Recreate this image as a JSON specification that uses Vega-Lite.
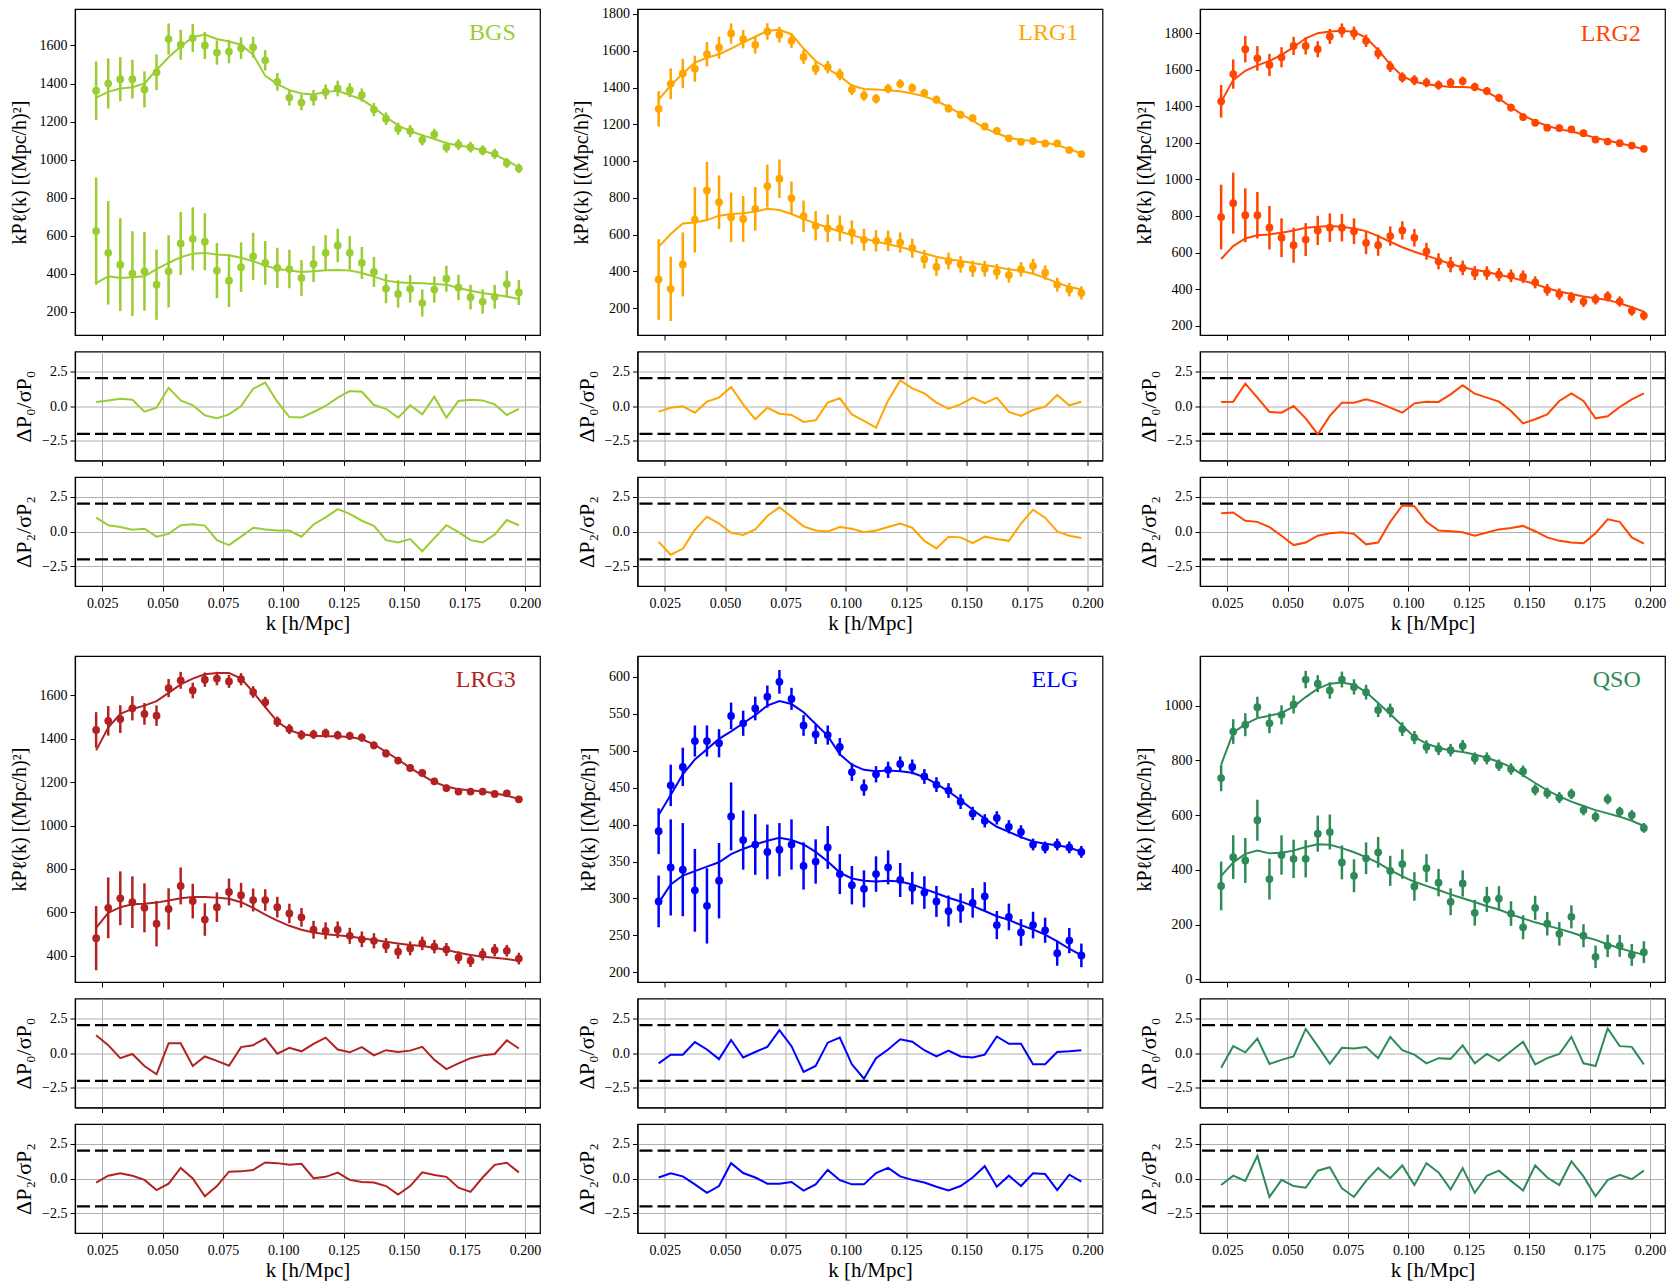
{
"$schema":"https://vega.github.io/schema/vega-lite/v6.json",
"background":"white",
"padding":{"left":8,"top":6,"right":2,"bottom":0},
"config":{
 "font":"Liberation Serif",
 "view":{"stroke":"black","strokeWidth":1.2},
 "axis":{"labelFont":"Liberation Serif","labelFontSize":14,"labelColor":"black","titleFont":"Liberation Serif","titleFontSize":20,"titleFontWeight":"normal","titleColor":"black","tickColor":"black","tickSize":5,"tickWidth":1,"domainColor":"black","domainWidth":1.2,"gridColor":"#b0b0b0","gridWidth":1,"grid":false,"labelPadding":3,"titlePadding":6,"labelFlush":false}
},
"datasets":{"pk":[
{"t":"BGS","k":0.0225,"p0":1362,"e0":154,"p2":624,"e2":282,"m0":1326,"m2":350,"r0":0.29,"r2":0.99},
{"t":"BGS","k":0.0275,"p0":1400,"e0":132,"p2":509,"e2":272,"m0":1356,"m2":386,"r0":0.4,"r2":0.45},
{"t":"BGS","k":0.0325,"p0":1423,"e0":116,"p2":447,"e2":244,"m0":1374,"m2":377,"r0":0.52,"r2":0.32},
{"t":"BGS","k":0.0375,"p0":1423,"e0":102,"p2":400,"e2":223,"m0":1380,"m2":381,"r0":0.45,"r2":0.12},
{"t":"BGS","k":0.0425,"p0":1369,"e0":95,"p2":412,"e2":207,"m0":1400,"m2":386,"r0":-0.4,"r2":0.2},
{"t":"BGS","k":0.0475,"p0":1459,"e0":94,"p2":342,"e2":185,"m0":1471,"m2":424,"r0":-0.12,"r2":-0.37},
{"t":"BGS","k":0.0525,"p0":1634,"e0":82,"p2":412,"e2":190,"m0":1538,"m2":456,"r0":1.3,"r2":-0.17},
{"t":"BGS","k":0.0575,"p0":1604,"e0":79,"p2":559,"e2":166,"m0":1595,"m2":486,"r0":0.4,"r2":0.45},
{"t":"BGS","k":0.0625,"p0":1639,"e0":74,"p2":583,"e2":166,"m0":1644,"m2":505,"r0":0.05,"r2":0.52},
{"t":"BGS","k":0.0675,"p0":1600,"e0":71,"p2":568,"e2":150,"m0":1658,"m2":509,"r0":-0.67,"r2":0.42},
{"t":"BGS","k":0.0725,"p0":1563,"e0":64,"p2":416,"e2":145,"m0":1634,"m2":500,"r0":-0.88,"r2":-0.62},
{"t":"BGS","k":0.0775,"p0":1568,"e0":62,"p2":363,"e2":139,"m0":1621,"m2":497,"r0":-0.6,"r2":-0.97},
{"t":"BGS","k":0.0825,"p0":1586,"e0":57,"p2":434,"e2":130,"m0":1604,"m2":483,"r0":0,"r2":-0.37},
{"t":"BGS","k":0.0875,"p0":1591,"e0":55,"p2":491,"e2":124,"m0":1551,"m2":465,"r0":1.24,"r2":0.27},
{"t":"BGS","k":0.0925,"p0":1522,"e0":53,"p2":456,"e2":115,"m0":1440,"m2":442,"r0":1.67,"r2":0.15},
{"t":"BGS","k":0.0975,"p0":1409,"e0":46,"p2":430,"e2":106,"m0":1397,"m2":424,"r0":0.31,"r2":0.07},
{"t":"BGS","k":0.1025,"p0":1326,"e0":42,"p2":424,"e2":101,"m0":1365,"m2":416,"r0":-0.79,"r2":0.07},
{"t":"BGS","k":0.1075,"p0":1300,"e0":41,"p2":377,"e2":94,"m0":1348,"m2":409,"r0":-0.83,"r2":-0.37},
{"t":"BGS","k":0.1125,"p0":1325,"e0":41,"p2":451,"e2":95,"m0":1342,"m2":412,"r0":-0.43,"r2":0.5},
{"t":"BGS","k":0.1175,"p0":1356,"e0":39,"p2":509,"e2":93,"m0":1356,"m2":417,"r0":0,"r2":1.01},
{"t":"BGS","k":0.1225,"p0":1374,"e0":41,"p2":548,"e2":88,"m0":1362,"m2":419,"r0":0.6,"r2":1.6},
{"t":"BGS","k":0.1275,"p0":1365,"e0":37,"p2":509,"e2":88,"m0":1339,"m2":416,"r0":1.07,"r2":1.26},
{"t":"BGS","k":0.1325,"p0":1339,"e0":35,"p2":456,"e2":84,"m0":1316,"m2":403,"r0":1.02,"r2":0.77},
{"t":"BGS","k":0.1375,"p0":1263,"e0":35,"p2":409,"e2":79,"m0":1273,"m2":384,"r0":0.07,"r2":0.4},
{"t":"BGS","k":0.1425,"p0":1215,"e0":33,"p2":321,"e2":77,"m0":1224,"m2":363,"r0":-0.2,"r2":-0.62},
{"t":"BGS","k":0.1475,"p0":1162,"e0":32,"p2":293,"e2":72,"m0":1180,"m2":354,"r0":-0.83,"r2":-0.79},
{"t":"BGS","k":0.1525,"p0":1150,"e0":32,"p2":320,"e2":73,"m0":1150,"m2":351,"r0":0.05,"r2":-0.54},
{"t":"BGS","k":0.1575,"p0":1104,"e0":30,"p2":245,"e2":71,"m0":1127,"m2":349,"r0":-0.6,"r2":-1.41},
{"t":"BGS","k":0.1625,"p0":1132,"e0":30,"p2":316,"e2":69,"m0":1109,"m2":345,"r0":0.67,"r2":-0.47},
{"t":"BGS","k":0.1675,"p0":1065,"e0":29,"p2":373,"e2":68,"m0":1086,"m2":342,"r0":-0.83,"r2":0.45},
{"t":"BGS","k":0.1725,"p0":1079,"e0":28,"p2":327,"e2":67,"m0":1074,"m2":324,"r0":0.36,"r2":-0.05},
{"t":"BGS","k":0.1775,"p0":1065,"e0":28,"p2":276,"e2":65,"m0":1065,"m2":310,"r0":0.45,"r2":-0.62},
{"t":"BGS","k":0.1825,"p0":1048,"e0":27,"p2":253,"e2":64,"m0":1048,"m2":298,"r0":0.4,"r2":-0.79},
{"t":"BGS","k":0.1875,"p0":1030,"e0":27,"p2":278,"e2":62,"m0":1026,"m2":289,"r0":0.12,"r2":-0.22},
{"t":"BGS","k":0.1925,"p0":982,"e0":26,"p2":345,"e2":70,"m0":995,"m2":280,"r0":-0.64,"r2":0.82},
{"t":"BGS","k":0.1975,"p0":954,"e0":25,"p2":301,"e2":66,"m0":959,"m2":266,"r0":-0.21,"r2":0.45},
{"t":"LRG1","k":0.0225,"p0":1284,"e0":96,"p2":356,"e2":219,"m0":1334,"m2":533,"r0":-0.4,"r2":-0.74},
{"t":"LRG1","k":0.0275,"p0":1420,"e0":84,"p2":305,"e2":175,"m0":1411,"m2":603,"r0":-0.12,"r2":-1.66},
{"t":"LRG1","k":0.0325,"p0":1476,"e0":80,"p2":438,"e2":174,"m0":1476,"m2":661,"r0":-0.02,"r2":-1.24},
{"t":"LRG1","k":0.0375,"p0":1502,"e0":71,"p2":681,"e2":178,"m0":1535,"m2":666,"r0":-0.48,"r2":0.12},
{"t":"LRG1","k":0.0425,"p0":1581,"e0":66,"p2":840,"e2":155,"m0":1562,"m2":679,"r0":0.31,"r2":1.06},
{"t":"LRG1","k":0.0475,"p0":1617,"e0":60,"p2":776,"e2":146,"m0":1581,"m2":703,"r0":0.6,"r2":0.57},
{"t":"LRG1","k":0.0525,"p0":1694,"e0":55,"p2":694,"e2":135,"m0":1612,"m2":712,"r0":1.36,"r2":-0.1},
{"t":"LRG1","k":0.0575,"p0":1663,"e0":50,"p2":685,"e2":125,"m0":1645,"m2":716,"r0":0.12,"r2":-0.25},
{"t":"LRG1","k":0.0625,"p0":1632,"e0":48,"p2":740,"e2":119,"m0":1676,"m2":725,"r0":-0.95,"r2":0.15},
{"t":"LRG1","k":0.0675,"p0":1705,"e0":45,"p2":864,"e2":117,"m0":1709,"m2":740,"r0":-0.12,"r2":1.11},
{"t":"LRG1","k":0.0725,"p0":1687,"e0":42,"p2":904,"e2":105,"m0":1714,"m2":734,"r0":-0.55,"r2":1.73},
{"t":"LRG1","k":0.0775,"p0":1654,"e0":40,"p2":798,"e2":91,"m0":1690,"m2":712,"r0":-0.64,"r2":1.06},
{"t":"LRG1","k":0.0825,"p0":1566,"e0":38,"p2":700,"e2":85,"m0":1612,"m2":685,"r0":-1.14,"r2":0.37},
{"t":"LRG1","k":0.0875,"p0":1504,"e0":36,"p2":648,"e2":80,"m0":1544,"m2":661,"r0":-1.02,"r2":0.07},
{"t":"LRG1","k":0.0925,"p0":1511,"e0":34,"p2":634,"e2":75,"m0":1502,"m2":639,"r0":0.24,"r2":0},
{"t":"LRG1","k":0.0975,"p0":1471,"e0":32,"p2":634,"e2":70,"m0":1462,"m2":617,"r0":0.55,"r2":0.32},
{"t":"LRG1","k":0.1025,"p0":1389,"e0":30,"p2":612,"e2":65,"m0":1411,"m2":597,"r0":-0.6,"r2":0.2},
{"t":"LRG1","k":0.1075,"p0":1356,"e0":28,"p2":572,"e2":60,"m0":1392,"m2":579,"r0":-1.07,"r2":-0.05},
{"t":"LRG1","k":0.1125,"p0":1339,"e0":26,"p2":566,"e2":58,"m0":1389,"m2":562,"r0":-1.55,"r2":0.07},
{"t":"LRG1","k":0.1175,"p0":1394,"e0":26,"p2":566,"e2":56,"m0":1385,"m2":548,"r0":0.4,"r2":0.32},
{"t":"LRG1","k":0.1225,"p0":1420,"e0":25,"p2":557,"e2":55,"m0":1380,"m2":533,"r0":1.83,"r2":0.57},
{"t":"LRG1","k":0.1275,"p0":1398,"e0":24,"p2":526,"e2":52,"m0":1367,"m2":515,"r0":1.26,"r2":0.27},
{"t":"LRG1","k":0.1325,"p0":1370,"e0":23,"p2":466,"e2":50,"m0":1352,"m2":497,"r0":0.9,"r2":-0.67},
{"t":"LRG1","k":0.1375,"p0":1334,"e0":22,"p2":424,"e2":48,"m0":1328,"m2":480,"r0":0.24,"r2":-1.21},
{"t":"LRG1","k":0.1425,"p0":1286,"e0":22,"p2":456,"e2":46,"m0":1294,"m2":466,"r0":-0.19,"r2":-0.37},
{"t":"LRG1","k":0.1475,"p0":1252,"e0":21,"p2":438,"e2":45,"m0":1257,"m2":457,"r0":0.12,"r2":-0.42},
{"t":"LRG1","k":0.1525,"p0":1233,"e0":21,"p2":414,"e2":44,"m0":1220,"m2":446,"r0":0.6,"r2":-0.84},
{"t":"LRG1","k":0.1575,"p0":1188,"e0":20,"p2":414,"e2":43,"m0":1179,"m2":435,"r0":0.21,"r2":-0.37},
{"t":"LRG1","k":0.1625,"p0":1164,"e0":20,"p2":398,"e2":42,"m0":1151,"m2":424,"r0":0.6,"r2":-0.54},
{"t":"LRG1","k":0.1675,"p0":1124,"e0":19,"p2":380,"e2":41,"m0":1127,"m2":411,"r0":-0.43,"r2":-0.67},
{"t":"LRG1","k":0.1725,"p0":1105,"e0":19,"p2":411,"e2":40,"m0":1114,"m2":402,"r0":-0.71,"r2":0.57},
{"t":"LRG1","k":0.1775,"p0":1109,"e0":19,"p2":429,"e2":40,"m0":1109,"m2":387,"r0":-0.29,"r2":1.56},
{"t":"LRG1","k":0.1825,"p0":1096,"e0":18,"p2":393,"e2":39,"m0":1100,"m2":365,"r0":-0.05,"r2":0.99},
{"t":"LRG1","k":0.1875,"p0":1096,"e0":18,"p2":328,"e2":38,"m0":1087,"m2":338,"r0":0.79,"r2":0},
{"t":"LRG1","k":0.1925,"p0":1060,"e0":18,"p2":301,"e2":37,"m0":1065,"m2":316,"r0":0.05,"r2":-0.3},
{"t":"LRG1","k":0.1975,"p0":1038,"e0":17,"p2":283,"e2":36,"m0":1041,"m2":301,"r0":0.31,"r2":-0.47},
{"t":"LRG2","k":0.0225,"p0":1427,"e0":89,"p2":794,"e2":177,"m0":1424,"m2":565,"r0":0.29,"r2":1.31},
{"t":"LRG2","k":0.0275,"p0":1576,"e0":80,"p2":870,"e2":167,"m0":1543,"m2":635,"r0":0.31,"r2":1.36},
{"t":"LRG2","k":0.0325,"p0":1712,"e0":72,"p2":804,"e2":147,"m0":1594,"m2":677,"r0":1.6,"r2":0.77},
{"t":"LRG2","k":0.0375,"p0":1662,"e0":67,"p2":804,"e2":127,"m0":1624,"m2":695,"r0":0.6,"r2":0.69},
{"t":"LRG2","k":0.0425,"p0":1626,"e0":61,"p2":736,"e2":119,"m0":1648,"m2":699,"r0":-0.43,"r2":0.32},
{"t":"LRG2","k":0.0475,"p0":1668,"e0":55,"p2":681,"e2":106,"m0":1681,"m2":708,"r0":-0.48,"r2":-0.3},
{"t":"LRG2","k":0.0525,"p0":1730,"e0":50,"p2":640,"e2":96,"m0":1723,"m2":721,"r0":0,"r2":-0.97},
{"t":"LRG2","k":0.0575,"p0":1730,"e0":47,"p2":671,"e2":90,"m0":1772,"m2":736,"r0":-0.88,"r2":-0.79},
{"t":"LRG2","k":0.0625,"p0":1712,"e0":44,"p2":721,"e2":80,"m0":1800,"m2":741,"r0":-2.02,"r2":-0.3},
{"t":"LRG2","k":0.0675,"p0":1782,"e0":41,"p2":736,"e2":78,"m0":1809,"m2":745,"r0":-0.71,"r2":-0.12},
{"t":"LRG2","k":0.0725,"p0":1815,"e0":38,"p2":736,"e2":75,"m0":1813,"m2":741,"r0":0.24,"r2":-0.05},
{"t":"LRG2","k":0.0775,"p0":1800,"e0":36,"p2":717,"e2":70,"m0":1807,"m2":732,"r0":0.24,"r2":-0.17},
{"t":"LRG2","k":0.0825,"p0":1758,"e0":34,"p2":653,"e2":62,"m0":1776,"m2":717,"r0":0.48,"r2":-0.92},
{"t":"LRG2","k":0.0875,"p0":1690,"e0":32,"p2":640,"e2":58,"m0":1708,"m2":690,"r0":0.24,"r2":-0.79},
{"t":"LRG2","k":0.0925,"p0":1617,"e0":30,"p2":690,"e2":53,"m0":1629,"m2":659,"r0":-0.12,"r2":0.69},
{"t":"LRG2","k":0.0975,"p0":1558,"e0":28,"p2":721,"e2":50,"m0":1565,"m2":629,"r0":-0.48,"r2":1.86},
{"t":"LRG2","k":0.1025,"p0":1543,"e0":27,"p2":681,"e2":48,"m0":1534,"m2":604,"r0":0.19,"r2":1.81},
{"t":"LRG2","k":0.1075,"p0":1530,"e0":26,"p2":607,"e2":46,"m0":1521,"m2":583,"r0":0.31,"r2":0.69},
{"t":"LRG2","k":0.1125,"p0":1516,"e0":25,"p2":552,"e2":44,"m0":1512,"m2":561,"r0":0.29,"r2":0.07},
{"t":"LRG2","k":0.1175,"p0":1530,"e0":24,"p2":534,"e2":42,"m0":1506,"m2":537,"r0":0.83,"r2":0.02},
{"t":"LRG2","k":0.1225,"p0":1538,"e0":24,"p2":516,"e2":40,"m0":1506,"m2":519,"r0":1.48,"r2":-0.05},
{"t":"LRG2","k":0.1275,"p0":1506,"e0":23,"p2":488,"e2":38,"m0":1501,"m2":506,"r0":0.88,"r2":-0.3},
{"t":"LRG2","k":0.1325,"p0":1483,"e0":22,"p2":488,"e2":37,"m0":1479,"m2":494,"r0":0.6,"r2":-0.07},
{"t":"LRG2","k":0.1375,"p0":1446,"e0":22,"p2":479,"e2":36,"m0":1442,"m2":479,"r0":0.31,"r2":0.15},
{"t":"LRG2","k":0.1425,"p0":1393,"e0":21,"p2":473,"e2":35,"m0":1396,"m2":464,"r0":-0.36,"r2":0.25},
{"t":"LRG2","k":0.1475,"p0":1341,"e0":21,"p2":468,"e2":34,"m0":1350,"m2":446,"r0":-1.24,"r2":0.4},
{"t":"LRG2","k":0.1525,"p0":1310,"e0":20,"p2":437,"e2":33,"m0":1319,"m2":428,"r0":-0.95,"r2":0.02},
{"t":"LRG2","k":0.1575,"p0":1283,"e0":20,"p2":396,"e2":32,"m0":1292,"m2":405,"r0":-0.6,"r2":-0.42},
{"t":"LRG2","k":0.1625,"p0":1281,"e0":19,"p2":373,"e2":31,"m0":1275,"m2":387,"r0":0.36,"r2":-0.67},
{"t":"LRG2","k":0.1675,"p0":1273,"e0":19,"p2":354,"e2":30,"m0":1262,"m2":373,"r0":0.9,"r2":-0.79},
{"t":"LRG2","k":0.1725,"p0":1253,"e0":19,"p2":332,"e2":30,"m0":1246,"m2":360,"r0":0.36,"r2":-0.84},
{"t":"LRG2","k":0.1775,"p0":1218,"e0":18,"p2":345,"e2":29,"m0":1227,"m2":350,"r0":-0.88,"r2":-0.12},
{"t":"LRG2","k":0.1825,"p0":1207,"e0":18,"p2":360,"e2":28,"m0":1213,"m2":341,"r0":-0.74,"r2":0.87},
{"t":"LRG2","k":0.1875,"p0":1198,"e0":18,"p2":332,"e2":28,"m0":1198,"m2":323,"r0":-0.07,"r2":0.69},
{"t":"LRG2","k":0.1925,"p0":1185,"e0":17,"p2":281,"e2":27,"m0":1182,"m2":301,"r0":0.48,"r2":-0.42},
{"t":"LRG2","k":0.1975,"p0":1167,"e0":17,"p2":255,"e2":26,"m0":1165,"m2":277,"r0":0.9,"r2":-0.87},
{"t":"LRG3","k":0.0225,"p0":1441,"e0":82,"p2":481,"e2":148,"m0":1347,"m2":528,"r0":1.27,"r2":-0.29},
{"t":"LRG3","k":0.0275,"p0":1483,"e0":68,"p2":621,"e2":140,"m0":1452,"m2":598,"r0":0.56,"r2":0.2},
{"t":"LRG3","k":0.0325,"p0":1491,"e0":64,"p2":665,"e2":124,"m0":1515,"m2":624,"r0":-0.37,"r2":0.37},
{"t":"LRG3","k":0.0375,"p0":1541,"e0":56,"p2":647,"e2":119,"m0":1538,"m2":637,"r0":-0.07,"r2":0.2},
{"t":"LRG3","k":0.0425,"p0":1515,"e0":50,"p2":621,"e2":113,"m0":1553,"m2":640,"r0":-0.93,"r2":-0.1},
{"t":"LRG3","k":0.0475,"p0":1507,"e0":47,"p2":548,"e2":105,"m0":1574,"m2":645,"r0":-1.52,"r2":-0.83},
{"t":"LRG3","k":0.0525,"p0":1634,"e0":42,"p2":616,"e2":95,"m0":1612,"m2":655,"r0":0.69,"r2":-0.37},
{"t":"LRG3","k":0.0575,"p0":1670,"e0":39,"p2":722,"e2":85,"m0":1651,"m2":665,"r0":0.69,"r2":0.76},
{"t":"LRG3","k":0.0625,"p0":1623,"e0":36,"p2":652,"e2":80,"m0":1678,"m2":671,"r0":-0.93,"r2":0},
{"t":"LRG3","k":0.0675,"p0":1673,"e0":33,"p2":567,"e2":75,"m0":1698,"m2":671,"r0":-0.25,"r2":-1.27},
{"t":"LRG3","k":0.0725,"p0":1678,"e0":31,"p2":624,"e2":68,"m0":1704,"m2":668,"r0":-0.56,"r2":-0.54},
{"t":"LRG3","k":0.0775,"p0":1665,"e0":30,"p2":694,"e2":62,"m0":1704,"m2":663,"r0":-0.91,"r2":0.49},
{"t":"LRG3","k":0.0825,"p0":1675,"e0":28,"p2":679,"e2":57,"m0":1678,"m2":647,"r0":0.42,"r2":0.51},
{"t":"LRG3","k":0.0875,"p0":1616,"e0":27,"p2":657,"e2":53,"m0":1616,"m2":621,"r0":0.56,"r2":0.61},
{"t":"LRG3","k":0.0925,"p0":1569,"e0":25,"p2":657,"e2":50,"m0":1546,"m2":590,"r0":1.05,"r2":1.15},
{"t":"LRG3","k":0.0975,"p0":1479,"e0":24,"p2":624,"e2":48,"m0":1480,"m2":562,"r0":-0.05,"r2":1.1},
{"t":"LRG3","k":0.1025,"p0":1445,"e0":23,"p2":595,"e2":45,"m0":1440,"m2":538,"r0":0.37,"r2":0.98},
{"t":"LRG3","k":0.1075,"p0":1418,"e0":22,"p2":577,"e2":43,"m0":1421,"m2":520,"r0":0.12,"r2":1.05},
{"t":"LRG3","k":0.1125,"p0":1421,"e0":21,"p2":520,"e2":41,"m0":1414,"m2":507,"r0":0.66,"r2":0.02},
{"t":"LRG3","k":0.1175,"p0":1426,"e0":21,"p2":515,"e2":39,"m0":1412,"m2":499,"r0":1.1,"r2":0.12},
{"t":"LRG3","k":0.1225,"p0":1417,"e0":20,"p2":520,"e2":38,"m0":1412,"m2":495,"r0":0.25,"r2":0.42},
{"t":"LRG3","k":0.1275,"p0":1414,"e0":19,"p2":492,"e2":37,"m0":1409,"m2":489,"r0":0.05,"r2":-0.1},
{"t":"LRG3","k":0.1325,"p0":1406,"e0":19,"p2":476,"e2":36,"m0":1398,"m2":481,"r0":0.42,"r2":-0.25},
{"t":"LRG3","k":0.1375,"p0":1370,"e0":18,"p2":469,"e2":35,"m0":1375,"m2":473,"r0":-0.17,"r2":-0.29},
{"t":"LRG3","k":0.1425,"p0":1333,"e0":18,"p2":447,"e2":34,"m0":1340,"m2":465,"r0":0.2,"r2":-0.54},
{"t":"LRG3","k":0.1475,"p0":1300,"e0":17,"p2":419,"e2":33,"m0":1305,"m2":457,"r0":0.07,"r2":-1.15},
{"t":"LRG3","k":0.1525,"p0":1266,"e0":17,"p2":434,"e2":32,"m0":1266,"m2":450,"r0":0.17,"r2":-0.54},
{"t":"LRG3","k":0.1575,"p0":1243,"e0":17,"p2":457,"e2":31,"m0":1232,"m2":445,"r0":0.44,"r2":0.44},
{"t":"LRG3","k":0.1625,"p0":1204,"e0":16,"p2":442,"e2":31,"m0":1201,"m2":437,"r0":-0.49,"r2":0.25},
{"t":"LRG3","k":0.1675,"p0":1173,"e0":16,"p2":429,"e2":30,"m0":1180,"m2":427,"r0":-1.15,"r2":0.12},
{"t":"LRG3","k":0.1725,"p0":1157,"e0":16,"p2":392,"e2":29,"m0":1168,"m2":414,"r0":-0.74,"r2":-0.66},
{"t":"LRG3","k":0.1775,"p0":1157,"e0":15,"p2":377,"e2":29,"m0":1163,"m2":403,"r0":-0.37,"r2":-0.96},
{"t":"LRG3","k":0.1825,"p0":1157,"e0":15,"p2":406,"e2":28,"m0":1157,"m2":395,"r0":-0.17,"r2":0.07},
{"t":"LRG3","k":0.1875,"p0":1146,"e0":15,"p2":426,"e2":28,"m0":1149,"m2":391,"r0":-0.07,"r2":0.98},
{"t":"LRG3","k":0.1925,"p0":1149,"e0":15,"p2":423,"e2":27,"m0":1138,"m2":385,"r0":0.91,"r2":1.13},
{"t":"LRG3","k":0.1975,"p0":1121,"e0":14,"p2":387,"e2":27,"m0":1123,"m2":377,"r0":0.32,"r2":0.44},
{"t":"ELG","k":0.0225,"p0":391,"e0":31,"p2":296,"e2":35,"m0":413,"m2":294,"r0":-0.74,"r2":0.07},
{"t":"ELG","k":0.0275,"p0":453,"e0":28,"p2":342,"e2":65,"m0":440,"m2":319,"r0":-0.12,"r2":0.37},
{"t":"ELG","k":0.0325,"p0":478,"e0":26,"p2":339,"e2":63,"m0":468,"m2":331,"r0":-0.12,"r2":0.15},
{"t":"ELG","k":0.0375,"p0":513,"e0":21,"p2":311,"e2":56,"m0":488,"m2":337,"r0":0.78,"r2":-0.42},
{"t":"ELG","k":0.0425,"p0":513,"e0":21,"p2":290,"e2":51,"m0":502,"m2":343,"r0":0.25,"r2":-1.03},
{"t":"ELG","k":0.0475,"p0":510,"e0":19,"p2":324,"e2":51,"m0":516,"m2":349,"r0":-0.44,"r2":-0.54},
{"t":"ELG","k":0.0525,"p0":547,"e0":18,"p2":411,"e2":46,"m0":526,"m2":360,"r0":0.93,"r2":1.1},
{"t":"ELG","k":0.0575,"p0":537,"e0":17,"p2":379,"e2":40,"m0":537,"m2":367,"r0":-0.32,"r2":0.39},
{"t":"ELG","k":0.0625,"p0":557,"e0":16,"p2":373,"e2":41,"m0":548,"m2":373,"r0":0.07,"r2":0.07},
{"t":"ELG","k":0.0675,"p0":573,"e0":15,"p2":363,"e2":37,"m0":561,"m2":378,"r0":0.44,"r2":-0.37},
{"t":"ELG","k":0.0725,"p0":593,"e0":16,"p2":366,"e2":36,"m0":567,"m2":382,"r0":1.64,"r2":-0.37},
{"t":"ELG","k":0.0775,"p0":570,"e0":15,"p2":373,"e2":34,"m0":563,"m2":379,"r0":0.49,"r2":-0.25},
{"t":"ELG","k":0.0825,"p0":534,"e0":14,"p2":344,"e2":32,"m0":552,"m2":373,"r0":-1.35,"r2":-0.86},
{"t":"ELG","k":0.0875,"p0":522,"e0":13,"p2":350,"e2":30,"m0":536,"m2":363,"r0":-0.93,"r2":-0.42},
{"t":"ELG","k":0.0925,"p0":521,"e0":13,"p2":369,"e2":29,"m0":520,"m2":350,"r0":0.74,"r2":0.61},
{"t":"ELG","k":0.0975,"p0":505,"e0":12,"p2":333,"e2":27,"m0":495,"m2":335,"r0":1.1,"r2":-0.12},
{"t":"ELG","k":0.1025,"p0":471,"e0":12,"p2":318,"e2":26,"m0":481,"m2":327,"r0":-0.81,"r2":-0.42},
{"t":"ELG","k":0.1075,"p0":450,"e0":11,"p2":313,"e2":25,"m0":474,"m2":324,"r0":-1.84,"r2":-0.42},
{"t":"ELG","k":0.1125,"p0":468,"e0":11,"p2":333,"e2":24,"m0":472,"m2":323,"r0":-0.37,"r2":0.39},
{"t":"ELG","k":0.1175,"p0":474,"e0":11,"p2":342,"e2":23,"m0":473,"m2":324,"r0":0.25,"r2":0.76},
{"t":"ELG","k":0.1225,"p0":482,"e0":10,"p2":325,"e2":23,"m0":472,"m2":323,"r0":0.98,"r2":0.15},
{"t":"ELG","k":0.1275,"p0":478,"e0":10,"p2":314,"e2":22,"m0":470,"m2":319,"r0":0.81,"r2":-0.1},
{"t":"ELG","k":0.1325,"p0":465,"e0":10,"p2":308,"e2":22,"m0":464,"m2":313,"r0":0.2,"r2":-0.29},
{"t":"ELG","k":0.1375,"p0":454,"e0":10,"p2":296,"e2":21,"m0":455,"m2":307,"r0":-0.25,"r2":-0.59},
{"t":"ELG","k":0.1425,"p0":446,"e0":10,"p2":283,"e2":21,"m0":445,"m2":301,"r0":0.17,"r2":-0.86},
{"t":"ELG","k":0.1475,"p0":431,"e0":10,"p2":287,"e2":20,"m0":433,"m2":296,"r0":-0.25,"r2":-0.54},
{"t":"ELG","k":0.1525,"p0":415,"e0":9,"p2":294,"e2":20,"m0":420,"m2":290,"r0":-0.32,"r2":0.07},
{"t":"ELG","k":0.1575,"p0":405,"e0":9,"p2":303,"e2":19,"m0":408,"m2":283,"r0":-0.12,"r2":0.88},
{"t":"ELG","k":0.1625,"p0":409,"e0":9,"p2":264,"e2":19,"m0":397,"m2":276,"r0":1.18,"r2":-0.59},
{"t":"ELG","k":0.1675,"p0":397,"e0":9,"p2":275,"e2":18,"m0":390,"m2":271,"r0":0.66,"r2":0.2},
{"t":"ELG","k":0.1725,"p0":390,"e0":9,"p2":254,"e2":18,"m0":383,"m2":264,"r0":0.66,"r2":-0.54},
{"t":"ELG","k":0.1775,"p0":373,"e0":8,"p2":264,"e2":18,"m0":377,"m2":258,"r0":-0.81,"r2":0.37},
{"t":"ELG","k":0.1825,"p0":369,"e0":8,"p2":257,"e2":17,"m0":374,"m2":251,"r0":-0.81,"r2":0.32},
{"t":"ELG","k":0.1875,"p0":373,"e0":8,"p2":226,"e2":17,"m0":372,"m2":242,"r0":0.07,"r2":-0.83},
{"t":"ELG","k":0.1925,"p0":369,"e0":8,"p2":243,"e2":17,"m0":369,"m2":232,"r0":0.12,"r2":0.27},
{"t":"ELG","k":0.1975,"p0":363,"e0":8,"p2":223,"e2":16,"m0":363,"m2":223,"r0":0.2,"r2":-0.22},
{"t":"QSO","k":0.0225,"p0":735,"e0":48,"p2":341,"e2":89,"m0":784,"m2":378,"r0":-1.05,"r2":-0.47},
{"t":"QSO","k":0.0275,"p0":905,"e0":45,"p2":446,"e2":80,"m0":901,"m2":427,"r0":0.49,"r2":0.2},
{"t":"QSO","k":0.0325,"p0":930,"e0":42,"p2":434,"e2":82,"m0":932,"m2":458,"r0":0.05,"r2":-0.17},
{"t":"QSO","k":0.0375,"p0":994,"e0":38,"p2":581,"e2":75,"m0":954,"m2":470,"r0":1.03,"r2":1.62},
{"t":"QSO","k":0.0425,"p0":935,"e0":36,"p2":366,"e2":75,"m0":963,"m2":460,"r0":-0.78,"r2":-1.32},
{"t":"QSO","k":0.0475,"p0":966,"e0":35,"p2":454,"e2":72,"m0":973,"m2":462,"r0":-0.49,"r2":-0.1},
{"t":"QSO","k":0.0525,"p0":1004,"e0":33,"p2":440,"e2":70,"m0":996,"m2":470,"r0":-0.25,"r2":-0.54},
{"t":"QSO","k":0.0575,"p0":1095,"e0":32,"p2":440,"e2":68,"m0":1031,"m2":483,"r0":1.72,"r2":-0.66},
{"t":"QSO","k":0.0625,"p0":1080,"e0":31,"p2":532,"e2":66,"m0":1062,"m2":493,"r0":0.49,"r2":0.56},
{"t":"QSO","k":0.0675,"p0":1055,"e0":30,"p2":538,"e2":64,"m0":1080,"m2":491,"r0":-0.78,"r2":0.81},
{"t":"QSO","k":0.0725,"p0":1095,"e0":29,"p2":427,"e2":62,"m0":1084,"m2":479,"r0":0.37,"r2":-0.71},
{"t":"QSO","k":0.0775,"p0":1068,"e0":28,"p2":378,"e2":60,"m0":1076,"m2":464,"r0":0.32,"r2":-1.32},
{"t":"QSO","k":0.0825,"p0":1049,"e0":27,"p2":442,"e2":58,"m0":1049,"m2":446,"r0":0.42,"r2":-0.17},
{"t":"QSO","k":0.0875,"p0":984,"e0":26,"p2":464,"e2":56,"m0":1009,"m2":425,"r0":-0.37,"r2":0.76},
{"t":"QSO","k":0.0925,"p0":982,"e0":25,"p2":396,"e2":55,"m0":969,"m2":399,"r0":1.15,"r2":0.02},
{"t":"QSO","k":0.0975,"p0":914,"e0":25,"p2":421,"e2":54,"m0":926,"m2":376,"r0":0.2,"r2":0.93},
{"t":"QSO","k":0.1025,"p0":883,"e0":24,"p2":339,"e2":52,"m0":885,"m2":356,"r0":-0.12,"r2":-0.47},
{"t":"QSO","k":0.1075,"p0":849,"e0":24,"p2":406,"e2":51,"m0":861,"m2":341,"r0":-0.74,"r2":1.1},
{"t":"QSO","k":0.1125,"p0":842,"e0":23,"p2":353,"e2":50,"m0":846,"m2":326,"r0":-0.37,"r2":0.44},
{"t":"QSO","k":0.1175,"p0":837,"e0":23,"p2":283,"e2":49,"m0":836,"m2":310,"r0":-0.42,"r2":-0.78},
{"t":"QSO","k":0.1225,"p0":852,"e0":22,"p2":350,"e2":48,"m0":830,"m2":296,"r0":0.54,"r2":0.74},
{"t":"QSO","k":0.1275,"p0":807,"e0":22,"p2":243,"e2":47,"m0":821,"m2":282,"r0":-0.74,"r2":-1.03},
{"t":"QSO","k":0.1325,"p0":807,"e0":22,"p2":292,"e2":46,"m0":809,"m2":267,"r0":-0.07,"r2":0.2},
{"t":"QSO","k":0.1375,"p0":782,"e0":21,"p2":295,"e2":45,"m0":794,"m2":255,"r0":-0.56,"r2":0.56},
{"t":"QSO","k":0.1425,"p0":768,"e0":21,"p2":240,"e2":45,"m0":775,"m2":237,"r0":0.12,"r2":-0.17},
{"t":"QSO","k":0.1475,"p0":760,"e0":21,"p2":190,"e2":44,"m0":745,"m2":222,"r0":0.81,"r2":-0.86},
{"t":"QSO","k":0.1525,"p0":692,"e0":20,"p2":261,"e2":44,"m0":717,"m2":208,"r0":-0.81,"r2":0.93},
{"t":"QSO","k":0.1575,"p0":680,"e0":20,"p2":203,"e2":43,"m0":690,"m2":196,"r0":-0.37,"r2":0.07},
{"t":"QSO","k":0.1625,"p0":664,"e0":20,"p2":166,"e2":43,"m0":668,"m2":184,"r0":-0.07,"r2":-0.47},
{"t":"QSO","k":0.1675,"p0":677,"e0":19,"p2":228,"e2":42,"m0":649,"m2":171,"r0":1.15,"r2":1.23},
{"t":"QSO","k":0.1725,"p0":618,"e0":19,"p2":159,"e2":42,"m0":633,"m2":156,"r0":-0.74,"r2":0.15},
{"t":"QSO","k":0.1775,"p0":594,"e0":19,"p2":82,"e2":41,"m0":618,"m2":144,"r0":-0.93,"r2":-1.27},
{"t":"QSO","k":0.1825,"p0":658,"e0":19,"p2":122,"e2":41,"m0":606,"m2":128,"r0":1.76,"r2":-0.12},
{"t":"QSO","k":0.1875,"p0":612,"e0":18,"p2":122,"e2":40,"m0":594,"m2":113,"r0":0.49,"r2":0.27},
{"t":"QSO","k":0.1925,"p0":600,"e0":18,"p2":89,"e2":40,"m0":579,"m2":101,"r0":0.44,"r2":-0.05},
{"t":"QSO","k":0.1975,"p0":553,"e0":18,"p2":99,"e2":40,"m0":560,"m2":89,"r0":-0.81,"r2":0.56}
]},
"spacing":21,
"vconcat":[
{"columns":3,"bounds":"flush","spacing":{"row":16.5,"column":97.5},"align":{"row":"each","column":"all"},
"concat":[
{"width":465,"height":326,"data":{"name":"pk"},"transform":[{"filter":"datum.t == 'BGS'"}],
 "encoding":{"x":{"field":"k","type":"quantitative","title":null,"scale":{"domain":[0.01375,0.20625],"nice":false},"axis":{"values":[0.025,0.05,0.075,0.1,0.125,0.15,0.175,0.2],"labels":false,"title":null}}},
 "layer":[
  {"mark":{"type":"errorbar","color":"#9acd32","thickness":2.5},"encoding":{"y":{"field":"p0","type":"quantitative","title":"kPℓ(k)  [(Mpc/h)²]","scale":{"domain":[77,1792],"nice":false}},"yError":{"field":"e0"}}},
  {"mark":{"type":"errorbar","color":"#9acd32","thickness":2.5},"encoding":{"y":{"field":"p2","type":"quantitative","title":"kPℓ(k)  [(Mpc/h)²]","scale":{"domain":[77,1792],"nice":false}},"yError":{"field":"e2"}}},
  {"mark":{"type":"circle","color":"#9acd32","size":60,"opacity":1},"encoding":{"y":{"field":"p0","type":"quantitative","title":"kPℓ(k)  [(Mpc/h)²]","scale":{"domain":[77,1792],"nice":false}}}},
  {"mark":{"type":"circle","color":"#9acd32","size":60,"opacity":1},"encoding":{"y":{"field":"p2","type":"quantitative","title":"kPℓ(k)  [(Mpc/h)²]","scale":{"domain":[77,1792],"nice":false}}}},
  {"mark":{"type":"line","color":"#9acd32","strokeWidth":2},"encoding":{"y":{"field":"m0","type":"quantitative","title":"kPℓ(k)  [(Mpc/h)²]","scale":{"domain":[77,1792],"nice":false},"axis":{"values":[200,400,600,800,1000,1200,1400,1600],"format":"d","title":"kPℓ(k)  [(Mpc/h)²]","titlePadding":10}}}},
  {"mark":{"type":"line","color":"#9acd32","strokeWidth":2},"encoding":{"y":{"field":"m2","type":"quantitative","title":"kPℓ(k)  [(Mpc/h)²]","scale":{"domain":[77,1792],"nice":false}}}},
  {"transform":[{"filter":"datum.k > 0.197"}],"mark":{"type":"text","text":"BGS","color":"#9acd32","fontSize":24,"align":"right","baseline":"middle"},"encoding":{"x":{"datum":0.1962,"type":"quantitative"},"y":{"datum":1668,"type":"quantitative"}}}
 ]},
{"width":465,"height":326,"data":{"name":"pk"},"transform":[{"filter":"datum.t == 'LRG1'"}],
 "encoding":{"x":{"field":"k","type":"quantitative","title":null,"scale":{"domain":[0.01375,0.20625],"nice":false},"axis":{"values":[0.025,0.05,0.075,0.1,0.125,0.15,0.175,0.2],"labels":false,"title":null}}},
 "layer":[
  {"mark":{"type":"errorbar","color":"#ffa500","thickness":2.5},"encoding":{"y":{"field":"p0","type":"quantitative","title":"kPℓ(k)  [(Mpc/h)²]","scale":{"domain":[54,1827],"nice":false}},"yError":{"field":"e0"}}},
  {"mark":{"type":"errorbar","color":"#ffa500","thickness":2.5},"encoding":{"y":{"field":"p2","type":"quantitative","title":"kPℓ(k)  [(Mpc/h)²]","scale":{"domain":[54,1827],"nice":false}},"yError":{"field":"e2"}}},
  {"mark":{"type":"circle","color":"#ffa500","size":60,"opacity":1},"encoding":{"y":{"field":"p0","type":"quantitative","title":"kPℓ(k)  [(Mpc/h)²]","scale":{"domain":[54,1827],"nice":false}}}},
  {"mark":{"type":"circle","color":"#ffa500","size":60,"opacity":1},"encoding":{"y":{"field":"p2","type":"quantitative","title":"kPℓ(k)  [(Mpc/h)²]","scale":{"domain":[54,1827],"nice":false}}}},
  {"mark":{"type":"line","color":"#ffa500","strokeWidth":2},"encoding":{"y":{"field":"m0","type":"quantitative","title":"kPℓ(k)  [(Mpc/h)²]","scale":{"domain":[54,1827],"nice":false},"axis":{"values":[200,400,600,800,1000,1200,1400,1600,1800],"format":"d","title":"kPℓ(k)  [(Mpc/h)²]","titlePadding":10}}}},
  {"mark":{"type":"line","color":"#ffa500","strokeWidth":2},"encoding":{"y":{"field":"m2","type":"quantitative","title":"kPℓ(k)  [(Mpc/h)²]","scale":{"domain":[54,1827],"nice":false}}}},
  {"transform":[{"filter":"datum.k > 0.197"}],"mark":{"type":"text","text":"LRG1","color":"#ffa500","fontSize":24,"align":"right","baseline":"middle"},"encoding":{"x":{"datum":0.1962,"type":"quantitative"},"y":{"datum":1697,"type":"quantitative"}}}
 ]},
{"width":465,"height":326,"data":{"name":"pk"},"transform":[{"filter":"datum.t == 'LRG2'"}],
 "encoding":{"x":{"field":"k","type":"quantitative","title":null,"scale":{"domain":[0.01375,0.20625],"nice":false},"axis":{"values":[0.025,0.05,0.075,0.1,0.125,0.15,0.175,0.2],"labels":false,"title":null}}},
 "layer":[
  {"mark":{"type":"errorbar","color":"#ff4500","thickness":2.5},"encoding":{"y":{"field":"p0","type":"quantitative","title":"kPℓ(k)  [(Mpc/h)²]","scale":{"domain":[149,1932],"nice":false}},"yError":{"field":"e0"}}},
  {"mark":{"type":"errorbar","color":"#ff4500","thickness":2.5},"encoding":{"y":{"field":"p2","type":"quantitative","title":"kPℓ(k)  [(Mpc/h)²]","scale":{"domain":[149,1932],"nice":false}},"yError":{"field":"e2"}}},
  {"mark":{"type":"circle","color":"#ff4500","size":60,"opacity":1},"encoding":{"y":{"field":"p0","type":"quantitative","title":"kPℓ(k)  [(Mpc/h)²]","scale":{"domain":[149,1932],"nice":false}}}},
  {"mark":{"type":"circle","color":"#ff4500","size":60,"opacity":1},"encoding":{"y":{"field":"p2","type":"quantitative","title":"kPℓ(k)  [(Mpc/h)²]","scale":{"domain":[149,1932],"nice":false}}}},
  {"mark":{"type":"line","color":"#ff4500","strokeWidth":2},"encoding":{"y":{"field":"m0","type":"quantitative","title":"kPℓ(k)  [(Mpc/h)²]","scale":{"domain":[149,1932],"nice":false},"axis":{"values":[200,400,600,800,1000,1200,1400,1600,1800],"format":"d","title":"kPℓ(k)  [(Mpc/h)²]","titlePadding":10}}}},
  {"mark":{"type":"line","color":"#ff4500","strokeWidth":2},"encoding":{"y":{"field":"m2","type":"quantitative","title":"kPℓ(k)  [(Mpc/h)²]","scale":{"domain":[149,1932],"nice":false}}}},
  {"transform":[{"filter":"datum.k > 0.197"}],"mark":{"type":"text","text":"LRG2","color":"#ff4500","fontSize":24,"align":"right","baseline":"middle"},"encoding":{"x":{"datum":0.1962,"type":"quantitative"},"y":{"datum":1798,"type":"quantitative"}}}
 ]},
{"width":465,"height":109,"data":{"name":"pk"},"transform":[{"filter":"datum.t == 'BGS'"}],
 "layer":[
  {"transform":[{"filter":"datum.k > 0.197"}],"mark":{"type":"rule","color":"black","strokeWidth":2.2,"strokeDash":[13,5]},"encoding":{"y":{"datum":2,"type":"quantitative"}}},
  {"transform":[{"filter":"datum.k > 0.197"}],"mark":{"type":"rule","color":"black","strokeWidth":2.2,"strokeDash":[13,5]},"encoding":{"y":{"datum":-2,"type":"quantitative"}}},
  {"mark":{"type":"line","color":"#9acd32","strokeWidth":2},"encoding":{"x":{"field":"k","type":"quantitative","title":null,"scale":{"domain":[0.01375,0.20625],"nice":false},"axis":{"values":[0.025,0.05,0.075,0.1,0.125,0.15,0.175,0.2],"labels":false,"title":null,"grid":true}},"y":{"field":"r0","type":"quantitative","title":"ΔP₀/σP₀","scale":{"domain":[-3.9,3.9],"nice":false},"axis":{"values":[-2.5,0,2.5],"format":".1f","grid":true,"title":"ΔP₀/σP₀","titleFontSize":22}}}}
 ]},
{"width":465,"height":109,"data":{"name":"pk"},"transform":[{"filter":"datum.t == 'LRG1'"}],
 "layer":[
  {"transform":[{"filter":"datum.k > 0.197"}],"mark":{"type":"rule","color":"black","strokeWidth":2.2,"strokeDash":[13,5]},"encoding":{"y":{"datum":2,"type":"quantitative"}}},
  {"transform":[{"filter":"datum.k > 0.197"}],"mark":{"type":"rule","color":"black","strokeWidth":2.2,"strokeDash":[13,5]},"encoding":{"y":{"datum":-2,"type":"quantitative"}}},
  {"mark":{"type":"line","color":"#ffa500","strokeWidth":2},"encoding":{"x":{"field":"k","type":"quantitative","title":null,"scale":{"domain":[0.01375,0.20625],"nice":false},"axis":{"values":[0.025,0.05,0.075,0.1,0.125,0.15,0.175,0.2],"labels":false,"title":null,"grid":true}},"y":{"field":"r0","type":"quantitative","title":"ΔP₀/σP₀","scale":{"domain":[-3.9,3.9],"nice":false},"axis":{"values":[-2.5,0,2.5],"format":".1f","grid":true,"title":"ΔP₀/σP₀","titleFontSize":22}}}}
 ]},
{"width":465,"height":109,"data":{"name":"pk"},"transform":[{"filter":"datum.t == 'LRG2'"}],
 "layer":[
  {"transform":[{"filter":"datum.k > 0.197"}],"mark":{"type":"rule","color":"black","strokeWidth":2.2,"strokeDash":[13,5]},"encoding":{"y":{"datum":2,"type":"quantitative"}}},
  {"transform":[{"filter":"datum.k > 0.197"}],"mark":{"type":"rule","color":"black","strokeWidth":2.2,"strokeDash":[13,5]},"encoding":{"y":{"datum":-2,"type":"quantitative"}}},
  {"mark":{"type":"line","color":"#ff4500","strokeWidth":2},"encoding":{"x":{"field":"k","type":"quantitative","title":null,"scale":{"domain":[0.01375,0.20625],"nice":false},"axis":{"values":[0.025,0.05,0.075,0.1,0.125,0.15,0.175,0.2],"labels":false,"title":null,"grid":true}},"y":{"field":"r0","type":"quantitative","title":"ΔP₀/σP₀","scale":{"domain":[-3.9,3.9],"nice":false},"axis":{"values":[-2.5,0,2.5],"format":".1f","grid":true,"title":"ΔP₀/σP₀","titleFontSize":22}}}}
 ]},
{"width":465,"height":109,"data":{"name":"pk"},"transform":[{"filter":"datum.t == 'BGS'"}],
 "layer":[
  {"transform":[{"filter":"datum.k > 0.197"}],"mark":{"type":"rule","color":"black","strokeWidth":2.2,"strokeDash":[13,5]},"encoding":{"y":{"datum":2,"type":"quantitative"}}},
  {"transform":[{"filter":"datum.k > 0.197"}],"mark":{"type":"rule","color":"black","strokeWidth":2.2,"strokeDash":[13,5]},"encoding":{"y":{"datum":-2,"type":"quantitative"}}},
  {"mark":{"type":"line","color":"#9acd32","strokeWidth":2},"encoding":{"x":{"field":"k","type":"quantitative","title":"k [h/Mpc]","scale":{"domain":[0.01375,0.20625],"nice":false},"axis":{"values":[0.025,0.05,0.075,0.1,0.125,0.15,0.175,0.2],"format":".3f","title":"k [h/Mpc]","titleFontSize":21,"labelPadding":5,"titlePadding":2,"grid":true}},"y":{"field":"r2","type":"quantitative","title":"ΔP₂/σP₂","scale":{"domain":[-3.9,3.9],"nice":false},"axis":{"values":[-2.5,0,2.5],"format":".1f","grid":true,"title":"ΔP₂/σP₂","titleFontSize":22}}}}
 ]},
{"width":465,"height":109,"data":{"name":"pk"},"transform":[{"filter":"datum.t == 'LRG1'"}],
 "layer":[
  {"transform":[{"filter":"datum.k > 0.197"}],"mark":{"type":"rule","color":"black","strokeWidth":2.2,"strokeDash":[13,5]},"encoding":{"y":{"datum":2,"type":"quantitative"}}},
  {"transform":[{"filter":"datum.k > 0.197"}],"mark":{"type":"rule","color":"black","strokeWidth":2.2,"strokeDash":[13,5]},"encoding":{"y":{"datum":-2,"type":"quantitative"}}},
  {"mark":{"type":"line","color":"#ffa500","strokeWidth":2},"encoding":{"x":{"field":"k","type":"quantitative","title":"k [h/Mpc]","scale":{"domain":[0.01375,0.20625],"nice":false},"axis":{"values":[0.025,0.05,0.075,0.1,0.125,0.15,0.175,0.2],"format":".3f","title":"k [h/Mpc]","titleFontSize":21,"labelPadding":5,"titlePadding":2,"grid":true}},"y":{"field":"r2","type":"quantitative","title":"ΔP₂/σP₂","scale":{"domain":[-3.9,3.9],"nice":false},"axis":{"values":[-2.5,0,2.5],"format":".1f","grid":true,"title":"ΔP₂/σP₂","titleFontSize":22}}}}
 ]},
{"width":465,"height":109,"data":{"name":"pk"},"transform":[{"filter":"datum.t == 'LRG2'"}],
 "layer":[
  {"transform":[{"filter":"datum.k > 0.197"}],"mark":{"type":"rule","color":"black","strokeWidth":2.2,"strokeDash":[13,5]},"encoding":{"y":{"datum":2,"type":"quantitative"}}},
  {"transform":[{"filter":"datum.k > 0.197"}],"mark":{"type":"rule","color":"black","strokeWidth":2.2,"strokeDash":[13,5]},"encoding":{"y":{"datum":-2,"type":"quantitative"}}},
  {"mark":{"type":"line","color":"#ff4500","strokeWidth":2},"encoding":{"x":{"field":"k","type":"quantitative","title":"k [h/Mpc]","scale":{"domain":[0.01375,0.20625],"nice":false},"axis":{"values":[0.025,0.05,0.075,0.1,0.125,0.15,0.175,0.2],"format":".3f","title":"k [h/Mpc]","titleFontSize":21,"labelPadding":5,"titlePadding":2,"grid":true}},"y":{"field":"r2","type":"quantitative","title":"ΔP₂/σP₂","scale":{"domain":[-3.9,3.9],"nice":false},"axis":{"values":[-2.5,0,2.5],"format":".1f","grid":true,"title":"ΔP₂/σP₂","titleFontSize":22}}}}
 ]}
]},
{"columns":3,"bounds":"flush","spacing":{"row":16.5,"column":97.5},"align":{"row":"each","column":"all"},
"concat":[
{"width":465,"height":326,"data":{"name":"pk"},"transform":[{"filter":"datum.t == 'LRG3'"}],
 "encoding":{"x":{"field":"k","type":"quantitative","title":null,"scale":{"domain":[0.01375,0.20625],"nice":false},"axis":{"values":[0.025,0.05,0.075,0.1,0.125,0.15,0.175,0.2],"labels":false,"title":null}}},
 "layer":[
  {"mark":{"type":"errorbar","color":"#b22222","thickness":2.5},"encoding":{"y":{"field":"p0","type":"quantitative","title":"kPℓ(k)  [(Mpc/h)²]","scale":{"domain":[279,1782],"nice":false}},"yError":{"field":"e0"}}},
  {"mark":{"type":"errorbar","color":"#b22222","thickness":2.5},"encoding":{"y":{"field":"p2","type":"quantitative","title":"kPℓ(k)  [(Mpc/h)²]","scale":{"domain":[279,1782],"nice":false}},"yError":{"field":"e2"}}},
  {"mark":{"type":"circle","color":"#b22222","size":60,"opacity":1},"encoding":{"y":{"field":"p0","type":"quantitative","title":"kPℓ(k)  [(Mpc/h)²]","scale":{"domain":[279,1782],"nice":false}}}},
  {"mark":{"type":"circle","color":"#b22222","size":60,"opacity":1},"encoding":{"y":{"field":"p2","type":"quantitative","title":"kPℓ(k)  [(Mpc/h)²]","scale":{"domain":[279,1782],"nice":false}}}},
  {"mark":{"type":"line","color":"#b22222","strokeWidth":2},"encoding":{"y":{"field":"m0","type":"quantitative","title":"kPℓ(k)  [(Mpc/h)²]","scale":{"domain":[279,1782],"nice":false},"axis":{"values":[400,600,800,1000,1200,1400,1600],"format":"d","title":"kPℓ(k)  [(Mpc/h)²]","titlePadding":10}}}},
  {"mark":{"type":"line","color":"#b22222","strokeWidth":2},"encoding":{"y":{"field":"m2","type":"quantitative","title":"kPℓ(k)  [(Mpc/h)²]","scale":{"domain":[279,1782],"nice":false}}}},
  {"transform":[{"filter":"datum.k > 0.197"}],"mark":{"type":"text","text":"LRG3","color":"#b22222","fontSize":24,"align":"right","baseline":"middle"},"encoding":{"x":{"datum":0.1962,"type":"quantitative"},"y":{"datum":1671,"type":"quantitative"}}}
 ]},
{"width":465,"height":326,"data":{"name":"pk"},"transform":[{"filter":"datum.t == 'ELG'"}],
 "encoding":{"x":{"field":"k","type":"quantitative","title":null,"scale":{"domain":[0.01375,0.20625],"nice":false},"axis":{"values":[0.025,0.05,0.075,0.1,0.125,0.15,0.175,0.2],"labels":false,"title":null}}},
 "layer":[
  {"mark":{"type":"errorbar","color":"#0000ff","thickness":2.5},"encoding":{"y":{"field":"p0","type":"quantitative","title":"kPℓ(k)  [(Mpc/h)²]","scale":{"domain":[187,628],"nice":false}},"yError":{"field":"e0"}}},
  {"mark":{"type":"errorbar","color":"#0000ff","thickness":2.5},"encoding":{"y":{"field":"p2","type":"quantitative","title":"kPℓ(k)  [(Mpc/h)²]","scale":{"domain":[187,628],"nice":false}},"yError":{"field":"e2"}}},
  {"mark":{"type":"circle","color":"#0000ff","size":60,"opacity":1},"encoding":{"y":{"field":"p0","type":"quantitative","title":"kPℓ(k)  [(Mpc/h)²]","scale":{"domain":[187,628],"nice":false}}}},
  {"mark":{"type":"circle","color":"#0000ff","size":60,"opacity":1},"encoding":{"y":{"field":"p2","type":"quantitative","title":"kPℓ(k)  [(Mpc/h)²]","scale":{"domain":[187,628],"nice":false}}}},
  {"mark":{"type":"line","color":"#0000ff","strokeWidth":2},"encoding":{"y":{"field":"m0","type":"quantitative","title":"kPℓ(k)  [(Mpc/h)²]","scale":{"domain":[187,628],"nice":false},"axis":{"values":[200,250,300,350,400,450,500,550,600],"format":"d","title":"kPℓ(k)  [(Mpc/h)²]","titlePadding":10}}}},
  {"mark":{"type":"line","color":"#0000ff","strokeWidth":2},"encoding":{"y":{"field":"m2","type":"quantitative","title":"kPℓ(k)  [(Mpc/h)²]","scale":{"domain":[187,628],"nice":false}}}},
  {"transform":[{"filter":"datum.k > 0.197"}],"mark":{"type":"text","text":"ELG","color":"#0000ff","fontSize":24,"align":"right","baseline":"middle"},"encoding":{"x":{"datum":0.1962,"type":"quantitative"},"y":{"datum":595,"type":"quantitative"}}}
 ]},
{"width":465,"height":326,"data":{"name":"pk"},"transform":[{"filter":"datum.t == 'QSO'"}],
 "encoding":{"x":{"field":"k","type":"quantitative","title":null,"scale":{"domain":[0.01375,0.20625],"nice":false},"axis":{"values":[0.025,0.05,0.075,0.1,0.125,0.15,0.175,0.2],"labels":false,"title":null}}},
 "layer":[
  {"mark":{"type":"errorbar","color":"#2e8b57","thickness":2.5},"encoding":{"y":{"field":"p0","type":"quantitative","title":"kPℓ(k)  [(Mpc/h)²]","scale":{"domain":[-10,1181],"nice":false}},"yError":{"field":"e0"}}},
  {"mark":{"type":"errorbar","color":"#2e8b57","thickness":2.5},"encoding":{"y":{"field":"p2","type":"quantitative","title":"kPℓ(k)  [(Mpc/h)²]","scale":{"domain":[-10,1181],"nice":false}},"yError":{"field":"e2"}}},
  {"mark":{"type":"circle","color":"#2e8b57","size":60,"opacity":1},"encoding":{"y":{"field":"p0","type":"quantitative","title":"kPℓ(k)  [(Mpc/h)²]","scale":{"domain":[-10,1181],"nice":false}}}},
  {"mark":{"type":"circle","color":"#2e8b57","size":60,"opacity":1},"encoding":{"y":{"field":"p2","type":"quantitative","title":"kPℓ(k)  [(Mpc/h)²]","scale":{"domain":[-10,1181],"nice":false}}}},
  {"mark":{"type":"line","color":"#2e8b57","strokeWidth":2},"encoding":{"y":{"field":"m0","type":"quantitative","title":"kPℓ(k)  [(Mpc/h)²]","scale":{"domain":[-10,1181],"nice":false},"axis":{"values":[0,200,400,600,800,1000],"format":"d","title":"kPℓ(k)  [(Mpc/h)²]","titlePadding":10}}}},
  {"mark":{"type":"line","color":"#2e8b57","strokeWidth":2},"encoding":{"y":{"field":"m2","type":"quantitative","title":"kPℓ(k)  [(Mpc/h)²]","scale":{"domain":[-10,1181],"nice":false}}}},
  {"transform":[{"filter":"datum.k > 0.197"}],"mark":{"type":"text","text":"QSO","color":"#2e8b57","fontSize":24,"align":"right","baseline":"middle"},"encoding":{"x":{"datum":0.1962,"type":"quantitative"},"y":{"datum":1094,"type":"quantitative"}}}
 ]},
{"width":465,"height":109,"data":{"name":"pk"},"transform":[{"filter":"datum.t == 'LRG3'"}],
 "layer":[
  {"transform":[{"filter":"datum.k > 0.197"}],"mark":{"type":"rule","color":"black","strokeWidth":2.2,"strokeDash":[13,5]},"encoding":{"y":{"datum":2,"type":"quantitative"}}},
  {"transform":[{"filter":"datum.k > 0.197"}],"mark":{"type":"rule","color":"black","strokeWidth":2.2,"strokeDash":[13,5]},"encoding":{"y":{"datum":-2,"type":"quantitative"}}},
  {"mark":{"type":"line","color":"#b22222","strokeWidth":2},"encoding":{"x":{"field":"k","type":"quantitative","title":null,"scale":{"domain":[0.01375,0.20625],"nice":false},"axis":{"values":[0.025,0.05,0.075,0.1,0.125,0.15,0.175,0.2],"labels":false,"title":null,"grid":true}},"y":{"field":"r0","type":"quantitative","title":"ΔP₀/σP₀","scale":{"domain":[-3.9,3.9],"nice":false},"axis":{"values":[-2.5,0,2.5],"format":".1f","grid":true,"title":"ΔP₀/σP₀","titleFontSize":22}}}}
 ]},
{"width":465,"height":109,"data":{"name":"pk"},"transform":[{"filter":"datum.t == 'ELG'"}],
 "layer":[
  {"transform":[{"filter":"datum.k > 0.197"}],"mark":{"type":"rule","color":"black","strokeWidth":2.2,"strokeDash":[13,5]},"encoding":{"y":{"datum":2,"type":"quantitative"}}},
  {"transform":[{"filter":"datum.k > 0.197"}],"mark":{"type":"rule","color":"black","strokeWidth":2.2,"strokeDash":[13,5]},"encoding":{"y":{"datum":-2,"type":"quantitative"}}},
  {"mark":{"type":"line","color":"#0000ff","strokeWidth":2},"encoding":{"x":{"field":"k","type":"quantitative","title":null,"scale":{"domain":[0.01375,0.20625],"nice":false},"axis":{"values":[0.025,0.05,0.075,0.1,0.125,0.15,0.175,0.2],"labels":false,"title":null,"grid":true}},"y":{"field":"r0","type":"quantitative","title":"ΔP₀/σP₀","scale":{"domain":[-3.9,3.9],"nice":false},"axis":{"values":[-2.5,0,2.5],"format":".1f","grid":true,"title":"ΔP₀/σP₀","titleFontSize":22}}}}
 ]},
{"width":465,"height":109,"data":{"name":"pk"},"transform":[{"filter":"datum.t == 'QSO'"}],
 "layer":[
  {"transform":[{"filter":"datum.k > 0.197"}],"mark":{"type":"rule","color":"black","strokeWidth":2.2,"strokeDash":[13,5]},"encoding":{"y":{"datum":2,"type":"quantitative"}}},
  {"transform":[{"filter":"datum.k > 0.197"}],"mark":{"type":"rule","color":"black","strokeWidth":2.2,"strokeDash":[13,5]},"encoding":{"y":{"datum":-2,"type":"quantitative"}}},
  {"mark":{"type":"line","color":"#2e8b57","strokeWidth":2},"encoding":{"x":{"field":"k","type":"quantitative","title":null,"scale":{"domain":[0.01375,0.20625],"nice":false},"axis":{"values":[0.025,0.05,0.075,0.1,0.125,0.15,0.175,0.2],"labels":false,"title":null,"grid":true}},"y":{"field":"r0","type":"quantitative","title":"ΔP₀/σP₀","scale":{"domain":[-3.9,3.9],"nice":false},"axis":{"values":[-2.5,0,2.5],"format":".1f","grid":true,"title":"ΔP₀/σP₀","titleFontSize":22}}}}
 ]},
{"width":465,"height":109,"data":{"name":"pk"},"transform":[{"filter":"datum.t == 'LRG3'"}],
 "layer":[
  {"transform":[{"filter":"datum.k > 0.197"}],"mark":{"type":"rule","color":"black","strokeWidth":2.2,"strokeDash":[13,5]},"encoding":{"y":{"datum":2,"type":"quantitative"}}},
  {"transform":[{"filter":"datum.k > 0.197"}],"mark":{"type":"rule","color":"black","strokeWidth":2.2,"strokeDash":[13,5]},"encoding":{"y":{"datum":-2,"type":"quantitative"}}},
  {"mark":{"type":"line","color":"#b22222","strokeWidth":2},"encoding":{"x":{"field":"k","type":"quantitative","title":"k [h/Mpc]","scale":{"domain":[0.01375,0.20625],"nice":false},"axis":{"values":[0.025,0.05,0.075,0.1,0.125,0.15,0.175,0.2],"format":".3f","title":"k [h/Mpc]","titleFontSize":21,"labelPadding":5,"titlePadding":2,"grid":true}},"y":{"field":"r2","type":"quantitative","title":"ΔP₂/σP₂","scale":{"domain":[-3.9,3.9],"nice":false},"axis":{"values":[-2.5,0,2.5],"format":".1f","grid":true,"title":"ΔP₂/σP₂","titleFontSize":22}}}}
 ]},
{"width":465,"height":109,"data":{"name":"pk"},"transform":[{"filter":"datum.t == 'ELG'"}],
 "layer":[
  {"transform":[{"filter":"datum.k > 0.197"}],"mark":{"type":"rule","color":"black","strokeWidth":2.2,"strokeDash":[13,5]},"encoding":{"y":{"datum":2,"type":"quantitative"}}},
  {"transform":[{"filter":"datum.k > 0.197"}],"mark":{"type":"rule","color":"black","strokeWidth":2.2,"strokeDash":[13,5]},"encoding":{"y":{"datum":-2,"type":"quantitative"}}},
  {"mark":{"type":"line","color":"#0000ff","strokeWidth":2},"encoding":{"x":{"field":"k","type":"quantitative","title":"k [h/Mpc]","scale":{"domain":[0.01375,0.20625],"nice":false},"axis":{"values":[0.025,0.05,0.075,0.1,0.125,0.15,0.175,0.2],"format":".3f","title":"k [h/Mpc]","titleFontSize":21,"labelPadding":5,"titlePadding":2,"grid":true}},"y":{"field":"r2","type":"quantitative","title":"ΔP₂/σP₂","scale":{"domain":[-3.9,3.9],"nice":false},"axis":{"values":[-2.5,0,2.5],"format":".1f","grid":true,"title":"ΔP₂/σP₂","titleFontSize":22}}}}
 ]},
{"width":465,"height":109,"data":{"name":"pk"},"transform":[{"filter":"datum.t == 'QSO'"}],
 "layer":[
  {"transform":[{"filter":"datum.k > 0.197"}],"mark":{"type":"rule","color":"black","strokeWidth":2.2,"strokeDash":[13,5]},"encoding":{"y":{"datum":2,"type":"quantitative"}}},
  {"transform":[{"filter":"datum.k > 0.197"}],"mark":{"type":"rule","color":"black","strokeWidth":2.2,"strokeDash":[13,5]},"encoding":{"y":{"datum":-2,"type":"quantitative"}}},
  {"mark":{"type":"line","color":"#2e8b57","strokeWidth":2},"encoding":{"x":{"field":"k","type":"quantitative","title":"k [h/Mpc]","scale":{"domain":[0.01375,0.20625],"nice":false},"axis":{"values":[0.025,0.05,0.075,0.1,0.125,0.15,0.175,0.2],"format":".3f","title":"k [h/Mpc]","titleFontSize":21,"labelPadding":5,"titlePadding":2,"grid":true}},"y":{"field":"r2","type":"quantitative","title":"ΔP₂/σP₂","scale":{"domain":[-3.9,3.9],"nice":false},"axis":{"values":[-2.5,0,2.5],"format":".1f","grid":true,"title":"ΔP₂/σP₂","titleFontSize":22}}}}
 ]}
]}
]
}
